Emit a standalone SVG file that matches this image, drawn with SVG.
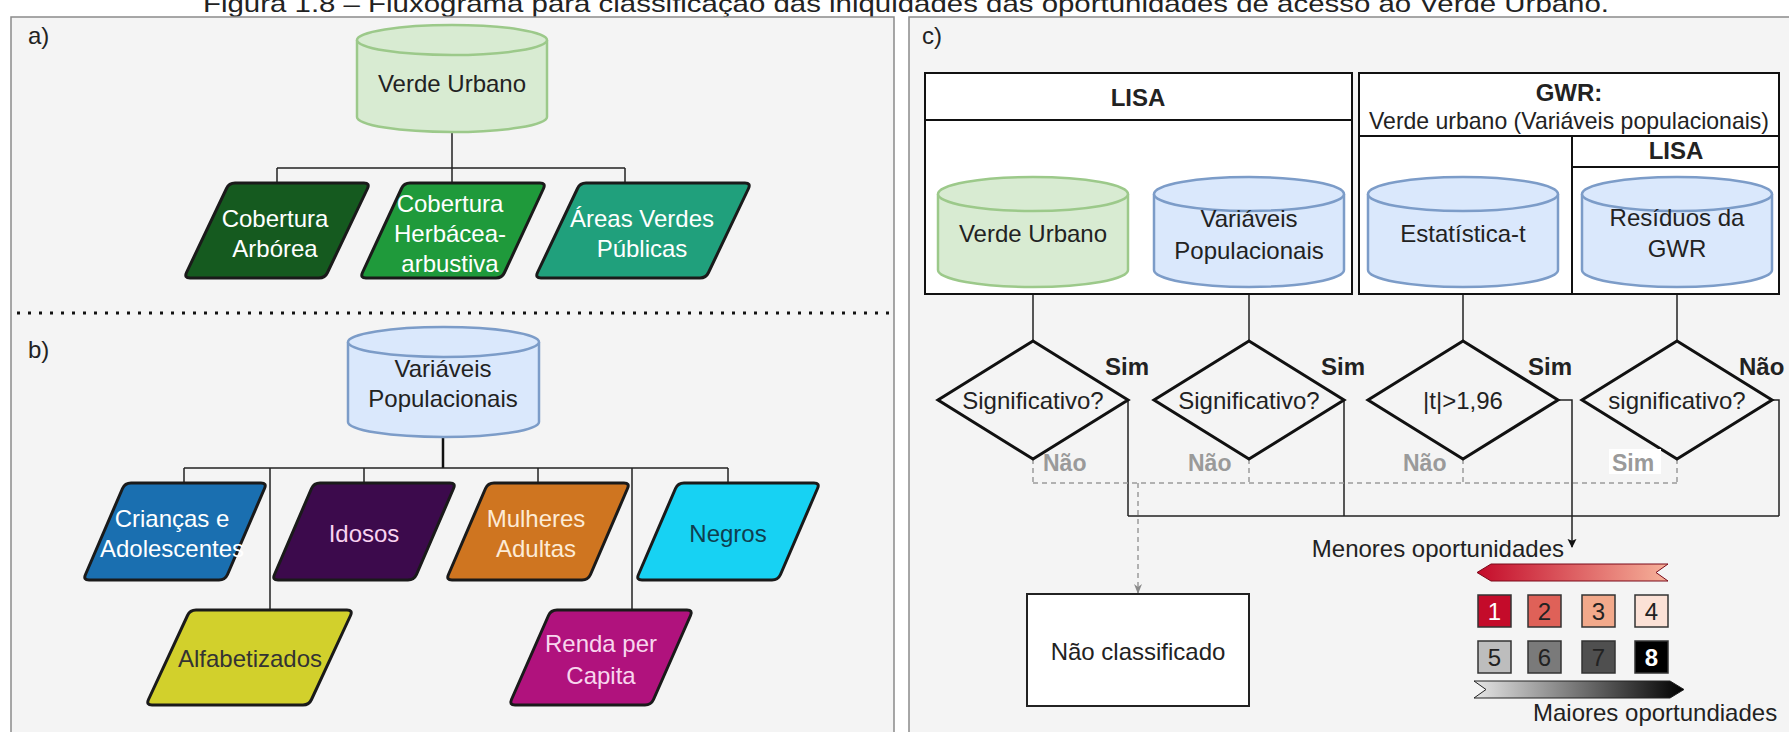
<svg xmlns="http://www.w3.org/2000/svg" width="1789" height="732" viewBox="0 0 1789 732">
<defs>
<style>
text{font-family:"Liberation Sans",Arial,sans-serif;font-size:24px;fill:#222}
.c{text-anchor:middle}
.w{fill:#fff}
.b{font-weight:bold}
.g{fill:#9a9a9a;font-weight:bold;font-size:23px}
.panel{fill:#f4f4f4;stroke:#8a8a8a;stroke-width:1.5}
.cylG{fill:#d8ebd2;stroke:#9cc98a;stroke-width:2.5}
.cylB{fill:#dae8fc;stroke:#7c9cc8;stroke-width:2.5}
.par{stroke:#1a1a1a;stroke-width:3;stroke-linejoin:round}
.ln{fill:none;stroke:#222;stroke-width:1.5}
.dash{fill:none;stroke:#9a9a9a;stroke-width:1.5;stroke-dasharray:5 4}
.dia{fill:none;stroke:#111;stroke-width:3;stroke-linejoin:miter}
.box{fill:#fff;stroke:#222;stroke-width:2}
.sq{stroke:#333;stroke-width:1.5}
</style>
<marker id="arrB" viewBox="0 0 10 10" refX="9" refY="5" markerWidth="9" markerHeight="11" markerUnits="userSpaceOnUse" orient="auto"><path d="M0,0 L10,5 L0,10 L2,5 z" fill="#111"/></marker>
<marker id="arrG" viewBox="0 0 10 10" refX="9" refY="5" markerWidth="10" markerHeight="10" markerUnits="userSpaceOnUse" orient="auto"><path d="M0,1 L10,5 L0,9 L3,5 z" fill="#8a8a8a"/></marker>
<linearGradient id="gRed" x1="0" x2="1" y1="0" y2="0"><stop offset="0" stop-color="#c40b2a"/><stop offset="1" stop-color="#f6b29a"/></linearGradient>
<linearGradient id="gGray" x1="0" x2="1" y1="0" y2="0"><stop offset="0" stop-color="#e6e6e6"/><stop offset="1" stop-color="#000"/></linearGradient>
</defs>

<text x="203" y="12" font-size="29" textLength="1406" lengthAdjust="spacingAndGlyphs">Figura 1.8 – Fluxograma para classificação das iniquidades das oportunidades de acesso ao Verde Urbano.</text>

<rect class="panel" x="11" y="17" width="883" height="740"/>
<rect class="panel" x="909" y="17" width="900" height="740"/>
<line x1="17" y1="313" x2="890" y2="313" stroke="#111" stroke-width="3" stroke-dasharray="3 8"/>
<text x="28" y="44">a)</text>
<text x="28" y="358">b)</text>
<text x="922" y="44">c)</text>

<g id="connectors">
<path class="ln" d="M452,132 V168 M277,168 H625 M277,168 V183 M452,168 V183 M625,168 V183"/>
<path d="M443,437 V468" stroke="#111" stroke-width="2.5"/>
<path class="ln" d="M184,468 H728 M184,468 V483 M364,468 V483 M538,468 V483 M728,468 V483 M270,468 V610 M632,468 V610"/>
<path class="ln" d="M1033,287 V341 M1249,287 V341 M1463,287 V341 M1677,287 V341"/>
<path class="ln" d="M1128,400 V516 M1344,400 V516 M1772,400 H1779 V516 M1128,516 H1779"/>
<path class="ln" d="M1558,400 H1572 V547" marker-end="url(#arrB)"/>
<path class="dash" d="M1033,459 V483 M1249,459 V483 M1463,459 V483 M1677,459 V483 M1033,483 H1677"/>
<path class="dash" d="M1138,483 V593" marker-end="url(#arrG)"/>
</g>

<g id="verde-urbano-a">
<path class="cylG" d="M357,40 A95,15 0 0 1 547,40 V117 A95,15 0 0 1 357,117 Z"/>
<path class="cylG" d="M357,40 A95,15 0 0 0 547,40" fill="none"/>
<text class="c" x="452" y="92">Verde Urbano</text>
</g>
<g id="cobertura-arborea">
<path class="par" fill="#155a1f" d="M235,183 H364 Q370,183 367.5,188.5 L327.5,272.5 Q325,278 319,278 H190 Q184,278 186.5,272.5 L226.5,188.5 Q229,183 235,183 Z"/>
<text class="c w" x="275" y="227">Cobertura</text>
<text class="c w" x="275" y="257">Arbórea</text>
</g>
<g id="cobertura-herbacea">
<path class="par" fill="#1f9a3b" d="M410,183 H540 Q546,183 543.5,188.5 L504.5,272.5 Q502,278 496,278 H366 Q360,278 362.5,272.5 L401.5,188.5 Q404,183 410,183 Z"/>
<text class="c w" x="450" y="212">Cobertura</text>
<text class="c w" x="450" y="242">Herbácea-</text>
<text class="c w" x="450" y="272">arbustiva</text>
</g>
<g id="areas-verdes">
<path class="par" fill="#20a07c" d="M586,183 H745 Q751,183 748.5,188.5 L708.5,272.5 Q706,278 700,278 H541 Q535,278 537.5,272.5 L577.5,188.5 Q580,183 586,183 Z"/>
<text class="c w" x="642" y="227">Áreas Verdes</text>
<text class="c w" x="642" y="257">Públicas</text>
</g>

<g id="variaveis-b">
<path class="cylB" d="M348,342 A95.5,15 0 0 1 539,342 V422 A95.5,15 0 0 1 348,422 Z"/>
<path class="cylB" d="M348,342 A95.5,15 0 0 0 539,342" fill="none"/>
<text class="c" x="443" y="377">Variáveis</text>
<text class="c" x="443" y="407">Populacionais</text>
</g>
<g id="criancas">
<path class="par" fill="#1a6fb0" d="M131,483 H261 Q267,483 264.5,488.5 L227.5,574.5 Q225,580 219,580 H89 Q83,580 85.5,574.5 L122.5,488.5 Q125,483 131,483 Z"/>
<text class="c w" x="172" y="527">Crianças e</text>
<text class="c w" x="172" y="557">Adolescentes</text>
</g>
<g id="idosos">
<path class="par" fill="#3c0a4c" d="M320,483 H450 Q456,483 453.5,488.5 L416.5,574.5 Q414,580 408,580 H278 Q272,580 274.5,574.5 L311.5,488.5 Q314,483 320,483 Z"/>
<text class="c" x="364" y="542" style="fill:#f9d3f0">Idosos</text>
</g>
<g id="mulheres">
<path class="par" fill="#cf7520" d="M494,483 H624 Q630,483 627.5,488.5 L590.5,574.5 Q588,580 582,580 H452 Q446,580 448.5,574.5 L485.5,488.5 Q488,483 494,483 Z"/>
<text class="c" x="536" y="527" style="fill:#fdebd6">Mulheres</text>
<text class="c" x="536" y="557" style="fill:#fdebd6">Adultas</text>
</g>
<g id="negros">
<path class="par" fill="#17d2f3" d="M684,483 H814 Q820,483 817.5,488.5 L780.5,574.5 Q778,580 772,580 H642 Q636,580 638.5,574.5 L675.5,488.5 Q678,483 684,483 Z"/>
<text class="c" x="728" y="542" style="fill:#0f3f50">Negros</text>
</g>
<g id="alfabetizados">
<path class="par" fill="#d2d02c" d="M196,610 H347 Q353,610 350.5,615.5 L311.5,699.5 Q309,705 303,705 H152 Q146,705 148.5,699.5 L187.5,615.5 Q190,610 196,610 Z"/>
<text class="c" x="250" y="667" style="fill:#333">Alfabetizados</text>
</g>
<g id="renda">
<path class="par" fill="#b0127d" d="M557,610 H687 Q693,610 690.5,615.5 L653.5,699.5 Q651,705 645,705 H515 Q509,705 511.5,699.5 L548.5,615.5 Q551,610 557,610 Z"/>
<text class="c" x="601" y="652" style="fill:#f8d6ee">Renda per</text>
<text class="c" x="601" y="684" style="fill:#f8d6ee">Capita</text>
</g>

<g id="lisa-box">
<rect x="925" y="73" width="427" height="221" fill="#fff" stroke="#111" stroke-width="2"/>
<line x1="925" y1="120" x2="1352" y2="120" stroke="#111" stroke-width="2"/>
<text class="c b" x="1138" y="106">LISA</text>
</g>
<g id="gwr-box">
<rect x="1359" y="73" width="420" height="221" fill="#fff" stroke="#111" stroke-width="2"/>
<line x1="1359" y1="136" x2="1779" y2="136" stroke="#111" stroke-width="2"/>
<line x1="1572" y1="136" x2="1572" y2="294" stroke="#111" stroke-width="2"/>
<line x1="1572" y1="167" x2="1779" y2="167" stroke="#111" stroke-width="2"/>
<text class="c b" x="1569" y="101">GWR:</text>
<text class="c" x="1569" y="129" font-size="22" textLength="400" lengthAdjust="spacingAndGlyphs">Verde urbano (Variáveis populacionais)</text>
<text class="c b" x="1676" y="159" font-size="18">LISA</text>
</g>
<g id="verde-urbano-c">
<path class="cylG" d="M938,194 A95,17 0 0 1 1128,194 V270 A95,17 0 0 1 938,270 Z"/>
<path class="cylG" d="M938,194 A95,17 0 0 0 1128,194" fill="none"/>
<text class="c" x="1033" y="242">Verde Urbano</text>
</g>
<g id="variaveis-c">
<path class="cylB" d="M1154,194 A95,17 0 0 1 1344,194 V270 A95,17 0 0 1 1154,270 Z"/>
<path class="cylB" d="M1154,194 A95,17 0 0 0 1344,194" fill="none"/>
<text class="c" x="1249" y="227">Variáveis</text>
<text class="c" x="1249" y="259">Populacionais</text>
</g>
<g id="estatistica-t">
<path class="cylB" d="M1368,194 A95,17 0 0 1 1558,194 V270 A95,17 0 0 1 1368,270 Z"/>
<path class="cylB" d="M1368,194 A95,17 0 0 0 1558,194" fill="none"/>
<text class="c" x="1463" y="242">Estatística-t</text>
</g>
<g id="residuos">
<path class="cylB" d="M1582,194 A95,17 0 0 1 1772,194 V270 A95,17 0 0 1 1582,270 Z"/>
<path class="cylB" d="M1582,194 A95,17 0 0 0 1772,194" fill="none"/>
<text class="c" x="1677" y="226">Resíduos da</text>
<text class="c" x="1677" y="257">GWR</text>
</g>

<g id="dec1">
<polygon class="dia" points="1033,341 1128,400 1033,459 938,400"/>
<text class="c" x="1033" y="409">Significativo?</text>
<text class="b" x="1105" y="375" font-size="22">Sim</text>
<text class="g" x="1043" y="471">Não</text>
</g>
<g id="dec2">
<polygon class="dia" points="1249,341 1344,400 1249,459 1154,400"/>
<text class="c" x="1249" y="409">Significativo?</text>
<text class="b" x="1321" y="375" font-size="22">Sim</text>
<text class="g" x="1188" y="471">Não</text>
</g>
<g id="dec3">
<polygon class="dia" points="1463,341 1558,400 1463,459 1368,400"/>
<text class="c" x="1463" y="409">|t|&gt;1,96</text>
<text class="b" x="1528" y="375" font-size="22">Sim</text>
<text class="g" x="1403" y="471">Não</text>
</g>
<g id="dec4">
<polygon class="dia" points="1677,341 1772,400 1677,459 1582,400"/>
<text class="c" x="1677" y="409">significativo?</text>
<text class="b" x="1739" y="375" font-size="22">Não</text>
<rect x="1609" y="449" width="52" height="25" fill="#fff"/>
<text class="g" x="1612" y="471">Sim</text>
</g>

<g id="nao-classificado">
<rect class="box" x="1027" y="594" width="222" height="112"/>
<text class="c" x="1138" y="660">Não classificado</text>
</g>

<g id="legend">
<text x="1564" y="557" text-anchor="end">Menores oportunidades</text>
<polygon points="1477,572.5 1491,564 1668,564 1656,572.5 1668,581 1491,581" fill="url(#gRed)" stroke="#7a0a1a" stroke-width="1"/>
<rect class="sq" x="1478" y="595" width="33" height="32" fill="#c40b2a"/>
<rect class="sq" x="1528" y="595" width="33" height="32" fill="#df6158"/>
<rect class="sq" x="1582" y="595" width="33" height="32" fill="#f2a98b"/>
<rect class="sq" x="1635" y="595" width="33" height="32" fill="#fbe1d6"/>
<rect class="sq" x="1478" y="641" width="33" height="32" fill="#bdbdbd"/>
<rect class="sq" x="1528" y="641" width="33" height="32" fill="#7a7a7a"/>
<rect class="sq" x="1582" y="641" width="33" height="32" fill="#4f4f4f"/>
<rect class="sq" x="1635" y="641" width="33" height="32" fill="#000"/>
<text class="c w" x="1494.5" y="620" font-size="26">1</text>
<text class="c" x="1544.5" y="620" font-size="26">2</text>
<text class="c" x="1598.5" y="620" font-size="26">3</text>
<text class="c" x="1651.5" y="620" font-size="26">4</text>
<text class="c" x="1494.5" y="666" font-size="26">5</text>
<text class="c" x="1544.5" y="666" font-size="26">6</text>
<text class="c" x="1598.5" y="666" font-size="26">7</text>
<text class="c w b" x="1651.5" y="666" font-size="26">8</text>
<polygon points="1474,681 1670,681 1684,689.5 1670,698 1474,698 1486,689.5" fill="url(#gGray)" stroke="#222" stroke-width="1"/>
<text x="1533" y="721">Maiores oportundiades</text>
</g>
</svg>
